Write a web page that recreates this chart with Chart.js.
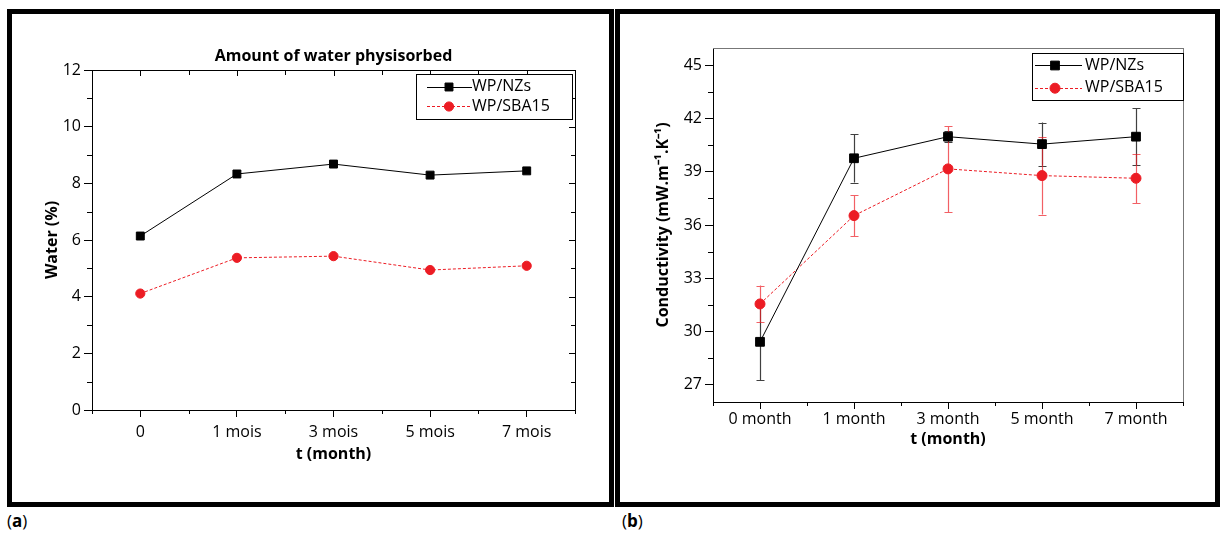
<!DOCTYPE html>
<html>
<head>
<meta charset="utf-8">
<script src="https://cdn.jsdelivr.net/npm/chart.js@4/dist/chart.umd.min.js"></script>
<style>
html,body{margin:0;padding:0;background:#fff;width:1221px;height:533px;overflow:hidden;font-family:'Open Sans',sans-serif;}
.panel{position:absolute;box-sizing:border-box;border:5px solid #000;}
#pa{left:7px;top:9px;width:607px;height:498px;}
#pb{left:615px;top:9px;width:605px;height:498px;}
canvas{display:block;}
.lab{position:absolute;top:510px;font-size:17px;line-height:22px;color:#000;}
</style>
</head>
<body>
<div class="panel" id="pa"><canvas id="ca" width="597" height="488"></canvas></div>
<div class="panel" id="pb"><canvas id="cb" width="595" height="488"></canvas></div>
<div class="lab" style="left:7px">(<b>a</b>)</div>
<div class="lab" style="left:622px">(<b>b</b>)</div>
<script>
// ---------- data ----------
const catsA = ['0', '1 mois', '3 mois', '5 mois', '7 mois'];
const waterNZs = [6.14, 8.33, 8.68, 8.29, 8.44];
const waterSBA = [4.11, 5.37, 5.43, 4.94, 5.09];
const yTicksA = [0, 2, 4, 6, 8, 10, 12];
const yMinorA = [1, 3, 5, 7, 9, 11];

const catsB = ['0 month', '1 month', '3 month', '5 month', '7 month'];
const condNZs = [29.40, 39.77, 40.99, 40.57, 40.99];
const condNZsErr = [2.15, 1.37, 0.3, 1.22, 1.6];
const condSBA = [31.54, 36.53, 39.17, 38.79, 38.64];
const condSBAErr = [1.04, 1.15, 2.43, 2.2, 1.39];
const yTicksB = [27, 30, 33, 36, 39, 42, 45];
const yMinorB = [28.5, 31.5, 34.5, 37.5, 40.5, 43.5];

// ---------- styling ----------
const RED = '#ec1c24';
Chart.defaults.font.family = "'Open Sans', sans-serif";
Chart.defaults.font.size = 16;
Chart.defaults.color = '#000';

function seg(ctx, x1, y1, x2, y2) { ctx.moveTo(x1, y1); ctx.lineTo(x2, y2); }
const px = v => Math.round(v) + 0.5;

const deco = {
  id: 'deco',
  beforeDatasetsDraw(chart, args, o) {
    const ctx = chart.ctx, ys = chart.scales.y;
    chart.data.datasets.forEach((ds, di) => {
      if (!ds.errorBars) return;
      const meta = chart.getDatasetMeta(di);
      ctx.save();
      ctx.strokeStyle = ds.errorColor;
      ctx.lineWidth = 1.2;
      meta.data.forEach((pt, i) => {
        const v = ds.data[i], e = ds.errorBars[i];
        const y1 = ys.getPixelForValue(v + e), y2 = ys.getPixelForValue(v - e);
        const x = px(pt.x);
        ctx.beginPath();
        seg(ctx, x, y1, x, y2);
        seg(ctx, x - o.cap, px(y1), x + o.cap, px(y1));
        seg(ctx, x - o.cap, px(y2), x + o.cap, px(y2));
        ctx.stroke();
      });
      ctx.restore();
    });
  },
  afterDraw(chart, args, o) {
    const ctx = chart.ctx, a = chart.chartArea, xs = chart.scales.x, ys = chart.scales.y;
    const n = xs.getLabels().length;
    ctx.save();
    ctx.lineWidth = 1;
    // minor ticks (outward)
    ctx.strokeStyle = '#000';
    ctx.beginPath();
    for (let i = 0; i <= n; i++) {
      const x = px(xs.getPixelForValue(i - 0.5));
      seg(ctx, x, a.bottom, x, a.bottom + o.xMinorLen);
    }
    o.yMinor.forEach(v => {
      const y = px(ys.getPixelForValue(v));
      seg(ctx, a.left - o.yMinorLen, y, a.left, y);
    });
    ctx.stroke();
    // top & right frame
    ctx.strokeStyle = o.frameColor;
    ctx.beginPath();
    seg(ctx, a.left, px(a.top), a.right + 1, px(a.top));
    seg(ctx, px(a.right), a.top, px(a.right), a.bottom);
    ctx.stroke();
    if (o.innerTicks) {
      ctx.strokeStyle = '#000';
      ctx.beginPath();
      for (let i = 0; i < n; i++) {
        const x = px(xs.getPixelForValue(i));
        seg(ctx, x, a.top, x, a.top + 6);
      }
      for (let i = 0; i <= n; i++) {
        const x = px(xs.getPixelForValue(i - 0.5));
        seg(ctx, x, a.top, x, a.top + 5);
      }
      ys.ticks.forEach(t => {
        const y = px(ys.getPixelForValue(t.value));
        seg(ctx, a.right - 6, y, a.right, y);
      });
      o.yMinor.forEach(v => {
        const y = px(ys.getPixelForValue(v));
        seg(ctx, a.right - 4, y, a.right, y);
      });
      ctx.stroke();
    }
    // title
    if (o.title) {
      ctx.font = "bold 16px 'Open Sans', sans-serif";
      ctx.fillStyle = '#000';
      ctx.textAlign = 'center';
      ctx.textBaseline = 'middle';
      ctx.fillText(o.title, (a.left + a.right) / 2, o.titleY);
    }
    // legend
    const L = o.legend;
    ctx.fillStyle = '#fff';
    ctx.fillRect(L.x, L.y, L.w, L.h);
    ctx.strokeStyle = '#000';
    ctx.lineWidth = 1;
    ctx.strokeRect(L.x + 0.5, L.y + 0.5, L.w, L.h);
    chart.data.datasets.forEach((ds, i) => {
      const y = L.rowY[i];
      ctx.save();
      ctx.strokeStyle = ds.borderColor;
      ctx.lineWidth = ds.borderWidth;
      ctx.setLineDash(ds.borderDash || []);
      ctx.beginPath();
      seg(ctx, L.x0, px(y), L.x1, px(y));
      ctx.stroke();
      ctx.restore();
      ctx.fillStyle = ds.pointBackgroundColor;
      ctx.strokeStyle = ds.pointBorderColor;
      ctx.lineWidth = ds.pointBorderWidth;
      Chart.helpers.drawPoint(ctx, {pointStyle: ds.pointStyle, radius: ds.pointRadius, borderWidth: ds.pointBorderWidth, rotation: 0}, L.mx, y + 0.5);
      ctx.fillStyle = '#000';
      ctx.font = "16px 'Open Sans', sans-serif";
      ctx.textAlign = 'left';
      ctx.textBaseline = 'middle';
      ctx.fillText(ds.label, L.tx, y);
    });
    ctx.restore();
  }
};

function axisX(title, pad, height) {
  return {
    type: 'category', offset: true,
    grid: {display: true, drawOnChartArea: false, drawTicks: true, tickLength: 7, color: '#000', tickColor: '#000'},
    border: {display: true, color: '#000', width: 1},
    ticks: {padding: pad, color: '#000', maxRotation: 0, autoSkip: false},
    title: {display: true, text: title, font: {size: 16, weight: 'bold'}, padding: 0, color: '#000'},
    afterFit: s => { s.height = height; }
  };
}
function axisY(min, max, tickArr, title, width) {
  return {
    type: 'linear', min: min, max: max,
    afterBuildTicks: s => { s.ticks = tickArr.map(v => ({value: v})); },
    grid: {display: true, drawOnChartArea: false, drawTicks: true, tickLength: 8, color: '#000', tickColor: '#000'},
    border: {display: true, color: '#000', width: 1},
    ticks: {padding: 3, color: '#000'},
    title: {display: true, text: title, font: {size: 16, weight: 'bold'}, padding: 0, color: '#000'},
    afterFit: s => { s.width = width; }
  };
}

// ---------- chart (a) ----------
new Chart(document.getElementById('ca'), {
  type: 'line',
  data: {
    labels: catsA,
    datasets: [
      {label: 'WP/NZs', data: waterNZs, borderColor: '#000', borderWidth: 1, pointStyle: 'rect',
       pointRadius: 5.6, pointBackgroundColor: '#000', pointBorderColor: '#000', pointBorderWidth: 1, tension: 0},
      {label: 'WP/SBA15', data: waterSBA, borderColor: RED, borderWidth: 1, borderDash: [3, 2], pointStyle: 'circle',
       pointRadius: 4.6, pointBackgroundColor: RED, pointBorderColor: RED, pointBorderWidth: 1, tension: 0}
    ]
  },
  options: {
    responsive: false, animation: false, events: [],
    layout: {padding: {left: 31, right: 34, top: 56, bottom: 38}},
    plugins: {
      legend: {display: false}, tooltip: {enabled: false},
      deco: {
        cap: 4, xMinorLen: 4, yMinorLen: 5, yMinor: yMinorA, frameColor: '#000', innerTicks: true,
        title: 'Amount of water physisorbed', titleY: 42.5,
        legend: {x: 404, y: 60, w: 156, h: 45, rowY: [72.5, 92], x0: 415, x1: 460, mx: 437, tx: 460}
      }
    },
    scales: {
      x: axisX('t (month)', 6, 54),
      y: axisY(0, 12, yTicksA, 'Water (%)', 49)
    }
  },
  plugins: [deco]
});

// ---------- chart (b) ----------
new Chart(document.getElementById('cb'), {
  type: 'line',
  data: {
    labels: catsB,
    datasets: [
      {label: 'WP/NZs', data: condNZs, errorBars: condNZsErr, errorColor: 'rgba(0,0,0,0.75)',
       borderColor: '#000', borderWidth: 1, pointStyle: 'rect',
       pointRadius: 6.2, pointBackgroundColor: '#000', pointBorderColor: '#000', pointBorderWidth: 1, tension: 0},
      {label: 'WP/SBA15', data: condSBA, errorBars: condSBAErr, errorColor: 'rgba(236,28,36,0.7)',
       borderColor: RED, borderWidth: 1, borderDash: [3, 2], pointStyle: 'circle',
       pointRadius: 5, pointBackgroundColor: RED, pointBorderColor: RED, pointBorderWidth: 1, tension: 0}
    ]
  },
  options: {
    responsive: false, animation: false, events: [],
    layout: {padding: {left: 34, right: 32, top: 34, bottom: 52.5}},
    plugins: {
      legend: {display: false}, tooltip: {enabled: false},
      deco: {
        cap: 4, xMinorLen: 4, yMinorLen: 5, yMinor: yMinorB, frameColor: '#777', innerTicks: false,
        title: null,
        legend: {x: 412, y: 39, w: 151, h: 47, rowY: [51, 73.7], x0: 415, x1: 462, mx: 435, tx: 465}
      }
    },
    scales: {
      x: axisX('t (month)', 1, 47.5),
      y: axisY(26, 46, yTicksB, 'Conductivity (mW.m\u207B\u00B9.K\u207B\u00B9)', 59)
    }
  },
  plugins: [deco]
});
</script>
</body>
</html>
